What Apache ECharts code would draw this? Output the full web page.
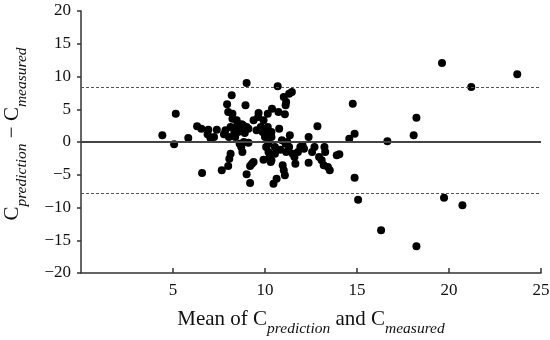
<!DOCTYPE html>
<html>
<head>
<meta charset="utf-8">
<script src="https://cdn.jsdelivr.net/npm/echarts@6/dist/echarts.min.js"></script>
<style>
html,body{margin:0;padding:0;background:#fff;}
#chart{width:550px;height:340px;}
</style>
</head>
<body>
<div id="chart"></div>
<script>
// Mean of C_prediction and C_measured (x)
const meanValues = [
  4.42,5.06,5.15,5.83,6.31,6.54,6.58,6.92,6.88,7.04,7.23,7.38,7.65,7.77,7.94,8.0,8.0,8.19,8.13,8.06,
  8.23,8.23,8.13,8.33,8.38,8.46,8.54,8.62,8.62,8.71,8.77,8.81,8.9,8.85,9.0,8.94,9.0,9.0,9.1,9.19,
  9.19,9.29,9.38,9.38,9.54,9.65,9.63,9.77,9.87,9.92,9.92,10.0,10.06,10.15,10.15,10.19,10.25,10.31,10.35,10.38,
  10.46,10.54,10.63,10.69,10.73,10.77,10.83,10.96,11.02,11.02,11.08,11.12,11.08,11.15,11.21,11.31,11.35,11.46,11.31,11.5,
  11.6,11.65,11.79,11.92,12.04,12.12,12.37,12.37,12.56,12.69,12.85,12.94,13.08,13.23,13.27,13.19,13.42,13.52,13.9,14.04,
  14.58,14.77,14.87,14.87,15.06,16.31,16.65,18.08,18.23,18.23,19.62,19.73,20.73,21.21,23.71,
  10.35,10.19,7.85,8.04,8.46,8.73,9.1,10.15,10.35,10.54,10.92,11.12,11.15
];
// C_prediction - C_measured (y)
const diffValues = [
  1.02,-0.36,4.33,0.61,2.39,2.04,-4.73,1.88,1.17,0.56,0.76,1.88,-4.33,1.17,5.75,-3.66,4.58,7.12,-1.78,-2.54,
  4.33,3.56,2.29,1.53,0.76,2.39,1.53,2.04,-0.25,-0.76,-1.53,2.54,1.37,0.0,9.0,5.6,-4.94,2.29,-0.1,-6.26,
  -3.66,-3.31,-3.05,3.31,1.78,4.43,3.82,2.29,1.53,3.31,-2.7,0.76,-0.76,4.33,2.29,-1.53,-2.29,-3.05,0.76,5.09,
  -6.36,-1.78,-5.6,8.5,4.58,2.04,-1.17,-3.56,-4.33,6.87,4.22,5.6,-5.09,6.1,0.0,7.38,1.02,7.63,-0.76,-1.78,
  -2.29,-3.31,-1.53,-0.76,-0.51,-1.02,0.76,-3.16,-1.53,-0.76,2.39,-2.29,-2.8,-0.76,-1.53,-3.56,-3.82,-4.33,-2.04,-1.88,
  0.51,5.85,1.27,-5.45,-8.8,-13.49,0.1,1.02,3.72,-15.93,12.06,-8.5,-9.67,8.4,10.33,
  1.53,-0.25,1.78,0.76,3.31,2.7,2.04,1.53,-2.8,-0.76,0.25,-0.25,-1.53
];
const meanDiff = 0;
const upperLimit = 8.3;
const lowerLimit = -7.75;
const xTicks = [5, 10, 15, 20, 25];
const yTicks = [-20, -15, -10, -5, 0, 5, 10, 15, 20];

const points = meanValues.map((m, i) => [m, diffValues[i]]);
const font = 'Liberation Serif';
const rich = {
  m: {fontFamily: font, fontSize: 21, color: '#111', lineHeight: 26, verticalAlign: 'middle'},
  s: {fontFamily: font, fontSize: 15.5, fontStyle: 'italic', color: '#111', lineHeight: 26, verticalAlign: 'bottom', padding: [0, 0, -5, 0]}
};

const chart = echarts.init(document.getElementById('chart'), null, {renderer: 'canvas'});
chart.setOption({
  animation: false,
  backgroundColor: '#fff',
  grid: {left: 81, right: 9, top: 11, bottom: 67, containLabel: false, outerBoundsMode: 'none'},
  xAxis: {
    type: 'value', min: 0, max: 25, interval: 5,
    axisLine: {show: true, onZero: false, lineStyle: {color: '#333', width: 1.5}},
    axisTick: {show: true, inside: true, length: 5, lineStyle: {color: '#333', width: 1.5}},
    axisLabel: {fontFamily: font, fontSize: 17, color: '#111', margin: 9, showMinLabel: false,
      formatter: v => xTicks.indexOf(v) >= 0 ? String(v) : ''},
    splitLine: {show: false},
    name: '{m|Mean of C}{s|prediction}{m| and C}{s|measured}',
    nameLocation: 'middle', nameGap: 33,
    nameTextStyle: {rich: rich}
  },
  yAxis: {
    type: 'value', min: -20, max: 20, interval: 5,
    axisLine: {show: true, onZero: false, lineStyle: {color: '#333', width: 1.5}},
    axisTick: {show: true, inside: false, length: 4, lineStyle: {color: '#333', width: 1.5}},
    axisLabel: {fontFamily: font, fontSize: 17, color: '#111', margin: 10,
      formatter: v => yTicks.indexOf(v) >= 0 ? String(v).replace('-', '\u2212') : ''},
    splitLine: {show: false},
    name: '{m|C}{s|prediction}{m| \u2212 C}{s|measured}',
    nameLocation: 'middle', nameGap: 56, nameRotate: 90,
    nameTextStyle: {rich: rich, padding: [0, 0, 0, 16]}
  },
  series: [{
    type: 'scatter',
    data: points,
    symbol: 'circle',
    symbolSize: 8,
    itemStyle: {color: '#000', opacity: 1},
    markLine: {
      silent: true,
      symbol: ['none', 'none'],
      label: {show: false},
      data: [
        {yAxis: meanDiff, lineStyle: {type: 'solid', color: '#444', width: 2}},
        {yAxis: upperLimit, lineStyle: {type: [3, 2], color: '#555', width: 1}},
        {yAxis: lowerLimit, lineStyle: {type: [3, 2], color: '#555', width: 1}}
      ]
    }
  }]
});
</script>
</body>
</html>
